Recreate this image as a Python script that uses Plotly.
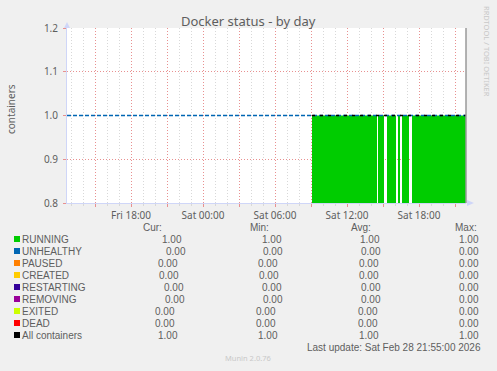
import plotly.graph_objects as go
import pandas as pd

# ---------------- data ----------------
range_start = "2026-02-27 12:40"
range_end = "2026-02-28 21:55"

# RUNNING = 1 during these periods (no data elsewhere)
run_starts = ["2026-02-28 09:05", "2026-02-28 14:35", "2026-02-28 15:20",
              "2026-02-28 16:15", "2026-02-28 16:35", "2026-02-28 17:25"]
run_ends = ["2026-02-28 14:30", "2026-02-28 15:05", "2026-02-28 16:05",
            "2026-02-28 16:25", "2026-02-28 17:10", "2026-02-28 21:55"]
run_value = 1.0
total_value = 1.0

labels = ["RUNNING", "UNHEALTHY", "PAUSED", "CREATED", "RESTARTING",
          "REMOVING", "EXITED", "DEAD", "All containers"]
colors = ["#00cc00", "#0066b3", "#ff8000", "#ffcc00", "#330099",
          "#990099", "#ccff00", "#ff0000", "#000000"]
cur = [1.00, 0.00, 0.00, 0.00, 0.00, 0.00, 0.00, 0.00, 1.00]
mins = [1.00, 0.00, 0.00, 0.00, 0.00, 0.00, 0.00, 0.00, 1.00]
avgs = [1.00, 0.00, 0.00, 0.00, 0.00, 0.00, 0.00, 0.00, 1.00]
maxs = [1.00, 0.00, 0.00, 0.00, 0.00, 0.00, 0.00, 0.00, 1.00]

y_ticks = [0.8, 0.9, 1.0, 1.1, 1.2]

# ---------------- layout helpers ----------------
W, H = 497, 371
PL, PR, PT, PB = 67, 466, 28, 203
TXT = "#5e5e5e"
FONT = "Noto Sans"
LFONT = "Liberation Sans"
MAJ = "#e89090"
MIN = "#d8d8d8"
AXIS = "#cfd6f8"


def px(x):
    return (x - PL) / (PR - PL)


def py(y):
    return (PB - y) / (PB - PT)


fig = go.Figure()

# RUNNING area: one filled block per period with data
for s, e in zip(run_starts, run_ends):
    fig.add_trace(go.Scatter(x=[s, e, e, s], y=[run_value, run_value, 0, 0], mode="lines",
                             fill="toself", fillcolor=colors[0],
                             line=dict(width=0, color=colors[0]),
                             hoverinfo="skip", showlegend=False))

major = pd.date_range("2026-02-27 15:00", "2026-02-28 21:00", freq="3h")
major_text = [d.strftime("%a %H:%M") if d.hour % 6 == 0 else "" for d in major]
hours = pd.date_range("2026-02-27 13:00", "2026-02-28 21:00", freq="1h")
minor_vals = [d for d in hours if d.hour % 3]

shapes = []

# total dashed line
fig.add_trace(go.Scatter(x=[range_start, range_end], y=[total_value, total_value],
                         mode="lines", line=dict(color="#0066b3", width=1.3, dash="4px,2px"),
                         hoverinfo="skip", showlegend=False))
fig.add_trace(go.Scatter(x=[run_starts[0], range_end], y=[total_value, total_value],
                         mode="lines", line=dict(color="#000000", width=1.3, dash="3px,5px"),
                         hoverinfo="skip", showlegend=False))

fig.update_layout(
    width=W, height=H,
    margin=dict(l=PL, r=W - PR, t=PT, b=H - PB, pad=0),
    paper_bgcolor="#f0f0f0", plot_bgcolor="#ffffff",
    font=dict(family=FONT, size=10, color=TXT),
    showlegend=False,
    xaxis=dict(
        type="date", range=[range_start, range_end],
        tickvals=list(major), ticktext=major_text,
        showgrid=True, gridcolor=MAJ, griddash="1px,2px", gridwidth=1,
        ticks="outside", ticklen=3, tickcolor=MAJ,
        tickfont=dict(size=10, color=TXT, family=FONT),
        showline=True, linecolor=AXIS, linewidth=1,
        zeroline=False, fixedrange=True,
        minor=dict(tickvals=minor_vals, showgrid=True,
                   gridcolor=MIN, griddash="1px,2px", gridwidth=1,
                   ticks="outside", ticklen=2, tickcolor=MIN),
    ),
    yaxis=dict(
        range=[0.8, 1.2], tickvals=y_ticks, tickformat=".1f",
        showgrid=True, gridcolor=MAJ, griddash="1px,2px", gridwidth=1,
        ticks="outside", ticklen=3, tickcolor=MAJ,
        ticklabelstandoff=3,
        tickfont=dict(size=10, color=TXT, family=FONT),
        showline=True, linecolor=AXIS, linewidth=1,
        zeroline=False, fixedrange=True,
    ),
)

# right border
shapes.append(dict(type="line", xref="paper", yref="paper", x0=1, x1=1, y0=0, y1=1,
                   line=dict(color="#9a9a9a", width=1.5)))
# axis arrows
shapes.append(dict(type="path", xref="paper", yref="paper",
                   path=f"M {px(64)} {py(28)} L {px(70)} {py(28)} L {px(67)} {py(22)} Z",
                   fillcolor=AXIS, line=dict(width=0)))
shapes.append(dict(type="path", xref="paper", yref="paper",
                   path=f"M {px(467)} {py(200)} L {px(467)} {py(206)} L {px(474)} {py(203)} Z",
                   fillcolor=AXIS, line=dict(width=0)))

ann = []


def text(t, x, y, size=10, color=TXT, xanchor="center", angle=0, family=FONT):
    ann.append(dict(text=t, x=px(x), y=py(y), xref="paper", yref="paper",
                    showarrow=False, xanchor=xanchor, yanchor="middle",
                    textangle=angle, borderpad=0,
                    font=dict(size=size, color=color, family=family)))


text("Docker status - by day", 248.5, 21, size=13)
text("containers", 11, 109, angle=-90)
text("RRDTOOL / TOBI OETIKER", 487, 51, size=7.5, color="#c8c8c8", angle=90)

# legend table
header_x = [152.5, 259.5, 361, 466]
for h, hx in zip(["Cur:", "Min:", "Avg:", "Max:"], header_x):
    text(h, hx, 227, family=LFONT)

cur_r = [183.3, 186.7, 179.3, 180, 185, 186, 176, 175.7, 179.3]
min_r = [283.3, 284.3, 279.3, 280, 283.3, 284.3, 277.3, 277.3, 279.3]
avg_r = [381, 382, 380, 380, 382, 382, 379, 379, 380]
max_r = [480] * 9

for i, lab in enumerate(labels):
    yc = 239 + 12 * i
    shapes.append(dict(type="rect", xref="paper", yref="paper",
                       x0=px(14), x1=px(20), y0=py(yc + 3), y1=py(yc - 3),
                       fillcolor=colors[i], line=dict(width=0)))
    text(lab, 20.5, yc, xanchor="left", family=LFONT)
    for vals, rx in ((cur, cur_r), (mins, min_r), (avgs, avg_r), (maxs, max_r)):
        text(f"{vals[i]:.2f}", rx[i], yc, xanchor="right", family=LFONT)

text("Last update: Sat Feb 28 21:55:00 2026", 482, 347, xanchor="right", family=LFONT)
text("Munin 2.0.76", 248, 358, size=7.5, color="#c8c8c8")

fig.update_layout(shapes=shapes, annotations=ann)
fig.write_html("out.html")
